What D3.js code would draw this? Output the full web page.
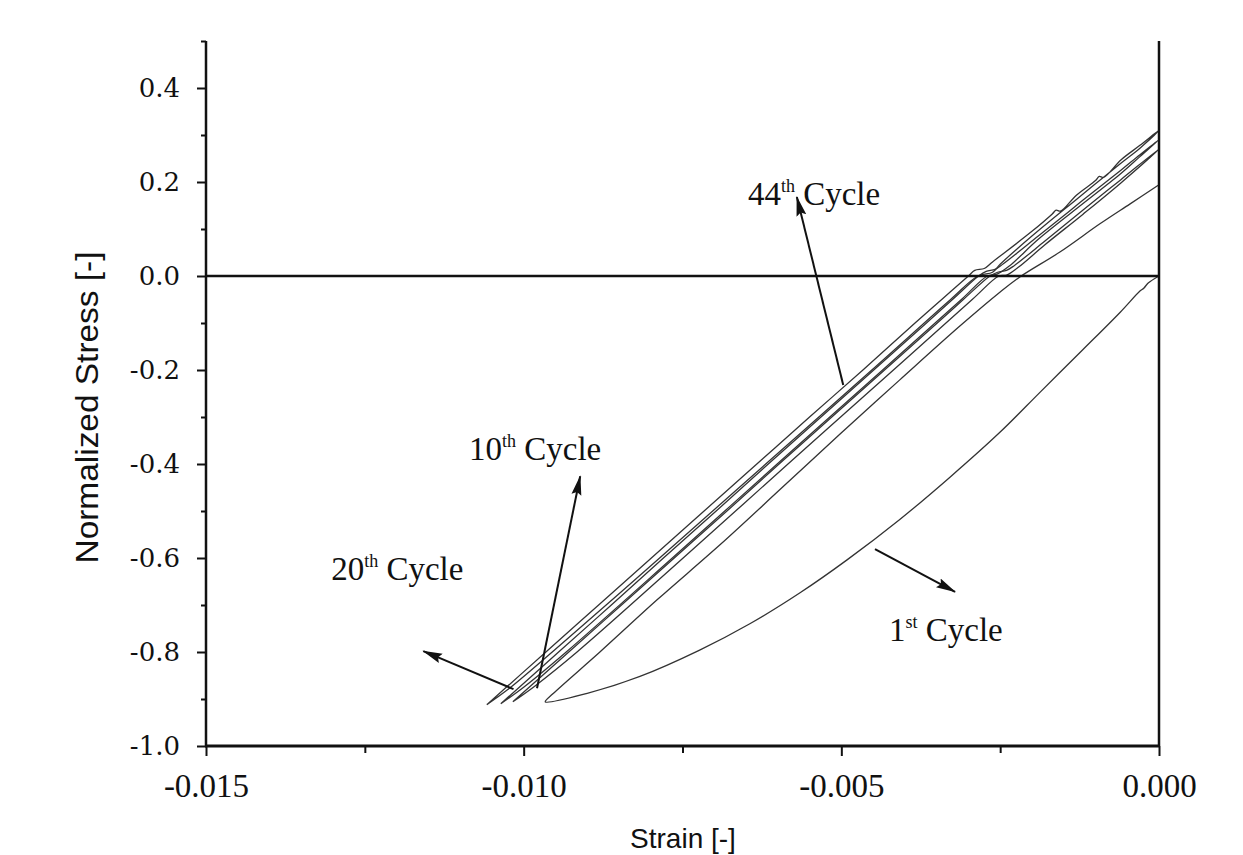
<!DOCTYPE html>
<html>
<head>
<meta charset="utf-8">
<script src="https://cdn.jsdelivr.net/npm/d3@7"></script>
<style>
  body { margin: 0; background: #fff; }
  svg { display: block; }
</style>
</head>
<body>
<svg id="chart"></svg>
<script>
// Axis ticks
const xTicks = [-0.015, -0.010, -0.005, 0.000];
const xMinorTicks = [-0.0125, -0.0075, -0.0025];
const yTicks = [0.4, 0.2, 0.0, -0.2, -0.4, -0.6, -0.8, -1.0];
const yMinorTicks = [0.5, 0.3, 0.1, -0.1, -0.3, -0.5, -0.7, -0.9];

// Hysteresis loops, [strain, normalized stress]
const cycle1 = [
  [0, 0], [-0.00017, -0.015], [-0.00024, -0.026], [-0.00030, -0.032], [-0.00061, -0.077],
  [-0.00120, -0.157], [-0.00187, -0.247], [-0.00250, -0.332], [-0.00329, -0.428],
  [-0.00408, -0.518], [-0.00491, -0.604], [-0.00565, -0.674], [-0.00644, -0.740],
  [-0.00723, -0.796], [-0.00817, -0.852], [-0.00900, -0.888], [-0.00966, -0.906],
  [-0.00954, -0.889], [-0.00880, -0.800], [-0.00790, -0.689], [-0.00691, -0.572],
  [-0.00597, -0.455], [-0.00502, -0.336], [-0.00408, -0.221], [-0.00313, -0.106],
  [-0.00250, -0.034], [-0.00219, -0.002], [-0.00156, 0.051], [-0.00093, 0.111],
  [-0.00046, 0.153], [0, 0.194]
];

const cycle10 = [
  [-0.01017, -0.906], [-0.00929, -0.800], [-0.00846, -0.700], [-0.00763, -0.600],
  [-0.00680, -0.500], [-0.00598, -0.400], [-0.00515, -0.300], [-0.00432, -0.200],
  [-0.00349, -0.100], [-0.00308, -0.050], [-0.00266, 0.000], [-0.00254, 0.008],
  [-0.00240, 0.012], [-0.00228, 0.022], [-0.00180, 0.074], [-0.00120, 0.140],
  [-0.00060, 0.205], [0, 0.270],
  [-0.00060, 0.198], [-0.00120, 0.131], [-0.00180, 0.066], [-0.00222, 0.018],
  [-0.00240, 0.002], [-0.00252, 0.000], [-0.00294, -0.050], [-0.00418, -0.200],
  [-0.00584, -0.400], [-0.00749, -0.600], [-0.00916, -0.800], [-0.00980, -0.870],
  [-0.01017, -0.906]
];

const cycle20 = [
  [-0.01036, -0.910], [-0.00945, -0.800], [-0.00862, -0.700], [-0.00780, -0.600],
  [-0.00697, -0.500], [-0.00615, -0.400], [-0.00532, -0.300], [-0.00449, -0.200],
  [-0.00366, -0.100], [-0.00325, -0.050], [-0.00284, 0.000], [-0.00272, 0.010],
  [-0.00258, 0.014], [-0.00245, 0.026], [-0.00190, 0.085], [-0.00150, 0.128],
  [-0.00120, 0.161], [-0.00060, 0.225], [-0.00030, 0.258], [0, 0.290],
  [-0.00030, 0.254], [-0.00060, 0.218], [-0.00130, 0.143], [-0.00190, 0.078],
  [-0.00235, 0.022], [-0.00255, 0.004], [-0.00270, 0.000], [-0.00311, -0.050],
  [-0.00435, -0.200], [-0.00601, -0.400], [-0.00766, -0.600], [-0.00933, -0.800],
  [-0.01000, -0.875], [-0.01036, -0.910]
];

const cycle44 = [
  [-0.01058, -0.912], [-0.00965, -0.800], [-0.00882, -0.700], [-0.00799, -0.600],
  [-0.00716, -0.500], [-0.00633, -0.400], [-0.00550, -0.300], [-0.00466, -0.200],
  [-0.00384, -0.100], [-0.00342, -0.050], [-0.00300, 0.000], [-0.00290, 0.012],
  [-0.00275, 0.016], [-0.00262, 0.030], [-0.00200, 0.095], [-0.00168, 0.132],
  [-0.00162, 0.140], [-0.00155, 0.138], [-0.00130, 0.172], [-0.00100, 0.203],
  [-0.00094, 0.212], [-0.00087, 0.210], [-0.00060, 0.247], [-0.00030, 0.278],
  [0, 0.310],
  [-0.00030, 0.272], [-0.00060, 0.240], [-0.00130, 0.163], [-0.00200, 0.085],
  [-0.00250, 0.025], [-0.00262, 0.008], [-0.00285, 0.000], [-0.00328, -0.050],
  [-0.00452, -0.200], [-0.00619, -0.400], [-0.00786, -0.600], [-0.00955, -0.800],
  [-0.01025, -0.880], [-0.01058, -0.912]
];

const cycles = [cycle1, cycle10, cycle20, cycle44];

// Annotation labels: number, suffix, text anchor point and arrow (from curve -> to label)
const labelNums = ["44", "10", "20", "1"];
const labelSups = ["th", "th", "th", "st"];
const labelPos = [[-0.00647, 0.151], [-0.01086, -0.391], [-0.01303, -0.647], [-0.00425, -0.777]];
const arrowFrom = [[-0.00497, -0.232], [-0.00979, -0.877], [-0.01016, -0.879], [-0.00447, -0.581]];
const arrowTo = [[-0.00570, 0.168], [-0.00911, -0.426], [-0.01158, -0.798], [-0.00321, -0.672]];

const W = 1243, H = 855;
let margin = {top: 41, right: 84, bottom: 109, left: 206};

const svg = d3.select("#chart").attr("width", W).attr("height", H);

let x = d3.scaleLinear().domain([-0.015, 0]).range([margin.left, W - margin.right]);
let y = d3.scaleLinear().domain([-1.0, 0.5]).range([H - margin.bottom, margin.top]);

const serif = "'Liberation Serif', 'Times New Roman', serif";
const sans = "'Liberation Sans', Arial, sans-serif";

// arrow head
svg.append("defs").append("marker")
    .attr("id", "head")
    .attr("markerUnits", "userSpaceOnUse")
    .attr("markerWidth", 20).attr("markerHeight", 12)
    .attr("refX", 19).attr("refY", 6)
    .attr("orient", "auto")
    .append("path")
    .attr("d", "M0,1 L20,6 L0,11 L3,6 Z")
    .attr("fill", "#111");

// curves
const line = d3.line()
    .x(d => x(d[0]))
    .y(d => y(d[1]))
    .curve(d3.curveCatmullRom.alpha(0.5));

svg.append("g").selectAll("path")
    .data(cycles)
    .enter().append("path")
    .attr("d", line)
    .attr("fill", "none")
    .attr("stroke", "#333")
    .attr("stroke-width", 1.3)
    .attr("stroke-linejoin", "round");

// zero line
svg.append("line")
    .attr("x1", x(-0.015)).attr("x2", x(0))
    .attr("y1", y(0)).attr("y2", y(0))
    .attr("stroke", "#111").attr("stroke-width", 2.6);

// left axis
const yAxis = svg.append("g")
    .attr("transform", `translate(${x(-0.015)},0)`)
    .call(d3.axisLeft(y).tickValues(yTicks).tickSize(9).tickPadding(17).tickFormat(d => d.toFixed(1)));
yAxis.select(".domain").remove();
yAxis.selectAll("text")
    .style("font-family", "'DejaVu Serif', serif")
    .style("font-size", "26px")
    .attr("fill", "#111");
yAxis.selectAll("line").attr("stroke", "#111").attr("stroke-width", 2);

svg.append("g")
    .attr("transform", `translate(${x(-0.015)},0)`)
    .call(d3.axisLeft(y).tickValues(yMinorTicks).tickSize(5).tickFormat(""))
    .call(g => g.select(".domain").remove())
    .selectAll("line").attr("stroke", "#111").attr("stroke-width", 2);

// bottom axis
const xAxis = svg.append("g")
    .attr("transform", `translate(0,${y(-1.0)})`)
    .call(d3.axisBottom(x).tickValues(xTicks).tickSize(10).tickPadding(18).tickFormat(d => d.toFixed(3)));
xAxis.select(".domain").remove();
xAxis.selectAll("text")
    .style("font-family", serif)
    .style("font-size", "33px")
    .attr("fill", "#111");
xAxis.selectAll("line").attr("stroke", "#111").attr("stroke-width", 2);

svg.append("g")
    .attr("transform", `translate(0,${y(-1.0)})`)
    .call(d3.axisBottom(x).tickValues(xMinorTicks).tickSize(7).tickFormat(""))
    .call(g => g.select(".domain").remove())
    .selectAll("line").attr("stroke", "#111").attr("stroke-width", 2);

// spines
svg.append("line")
    .attr("x1", x(-0.015)).attr("x2", x(-0.015))
    .attr("y1", y(0.5)).attr("y2", y(-1.0))
    .attr("stroke", "#111").attr("stroke-width", 2.5);
svg.append("line")
    .attr("x1", x(0)).attr("x2", x(0))
    .attr("y1", y(0.5)).attr("y2", y(-1.0))
    .attr("stroke", "#111").attr("stroke-width", 2.5);
svg.append("line")
    .attr("x1", x(-0.015) - 1).attr("x2", x(0) + 1)
    .attr("y1", y(-1.0)).attr("y2", y(-1.0))
    .attr("stroke", "#111").attr("stroke-width", 3.2);

// arrows
svg.append("g").selectAll("line")
    .data(arrowFrom)
    .enter().append("line")
    .attr("x1", d => x(d[0]))
    .attr("y1", d => y(d[1]))
    .attr("x2", (d, i) => x(arrowTo[i][0]))
    .attr("y2", (d, i) => y(arrowTo[i][1]))
    .attr("stroke", "#111")
    .attr("stroke-width", 2)
    .attr("marker-end", "url(#head)");

// cycle labels
const lab = svg.append("g").selectAll("text")
    .data(labelNums)
    .enter().append("text")
    .attr("x", (d, i) => x(labelPos[i][0]))
    .attr("y", (d, i) => y(labelPos[i][1]))
    .style("font-family", serif)
    .style("font-size", "33px")
    .attr("fill", "#111");
lab.append("tspan").text(d => d);
lab.append("tspan")
    .attr("dy", -13)
    .style("font-size", "18px")
    .text((d, i) => labelSups[i]);
lab.append("tspan")
    .attr("dy", 13)
    .text(" Cycle");

// axis titles
svg.append("text")
    .attr("transform", `translate(98,${(250 + 565) / 2}) rotate(-90)`)
    .style("text-anchor", "middle")
    .style("font-family", sans)
    .style("font-size", "32px")
    .attr("textLength", 312)
    .attr("lengthAdjust", "spacingAndGlyphs")
    .attr("fill", "#111")
    .text("Normalized Stress [-]");

svg.append("text")
    .attr("x", 683)
    .attr("y", 848)
    .style("text-anchor", "middle")
    .style("font-family", sans)
    .style("font-size", "28px")
    .attr("fill", "#111")
    .text("Strain [-]");
</script>
</body>
</html>
